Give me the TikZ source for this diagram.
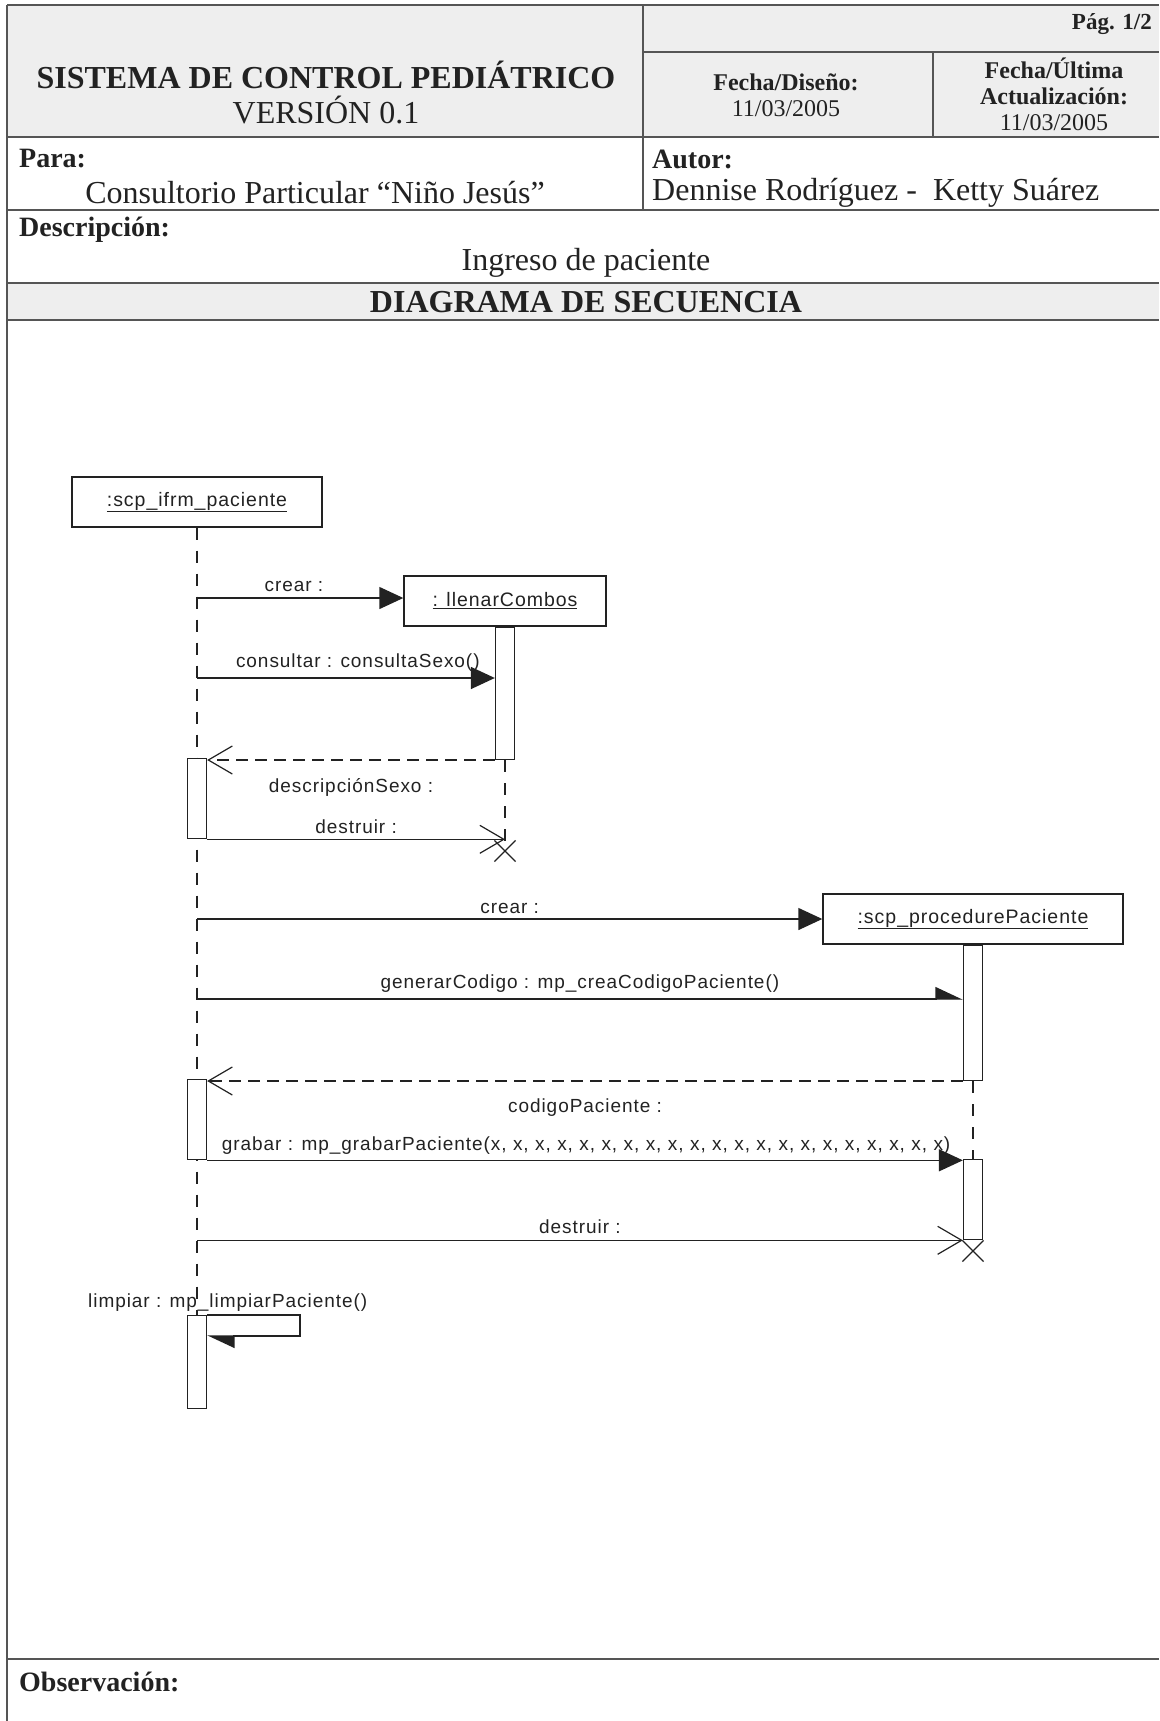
\documentclass[tikz,border=0pt]{standalone}
\usepackage{fontspec}
\setmainfont{Liberation Serif}
\newfontfamily\diagfont[LetterSpace=5]{Liberation Sans}
\usetikzlibrary{arrows.meta,positioning,shapes.misc,calc,backgrounds}
\definecolor{FormGray}{HTML}{EEEEEE}
\definecolor{FrameGray}{HTML}{555555}
\definecolor{InkBlack}{HTML}{222222}
\tikzset{
    % Form cells and texts
    frame line/.style={
        draw=FrameGray,
        line width=1.6pt
    },
    title text/.style={
        font=\fontsize{32}{34}\selectfont\bfseries,
        text=InkBlack
    },
    body text/.style={
        font=\fontsize{32}{34}\selectfont,
        text=InkBlack
    },
    field label/.style={
        font=\fontsize{28}{30}\selectfont\bfseries,
        text=InkBlack,
        anchor=west,
        inner sep=0pt
    },
    date text/.style={
        font=\fontsize{24}{26}\selectfont,
        text=InkBlack,
        align=center
    },
    % Sequence diagram
    object/.style={
        rectangle,
        draw=InkBlack,
        line width=1.4pt,
        fill=white,
        minimum height=50pt,
        font=\diagfont\fontsize{19.5}{21}\selectfont,
        text=InkBlack
    },
    activation/.style={
        rectangle,
        draw=InkBlack,
        line width=1.3pt,
        fill=white,
        minimum width=19pt,
        inner sep=0pt,
        anchor=north
    },
    lifeline/.style={
        draw=InkBlack,
        line width=1.3pt,
        dash pattern=on 12pt off 11pt
    },
    msg/.style={
        draw=InkBlack,
        line width=1.4pt,
        -{Triangle[length=24pt,width=22pt]}
    },
    msg half/.style={
        draw=InkBlack,
        line width=1.4pt,
        -{Triangle[left,length=26pt,width=24pt]}
    },
    msg open/.style={
        draw=InkBlack,
        line width=1.2pt,
        -{Straight Barb[length=24pt,width=28pt]}
    },
    msg return/.style={
        msg open,
        dash pattern=on 12pt off 7pt
    },
    msg label/.style={
        font=\diagfont\fontsize{19}{21}\selectfont,
        text=InkBlack,
        inner sep=0pt
    },
    destroy/.style={
        cross out,
        draw=InkBlack,
        line width=1.2pt,
        minimum size=20pt,
        inner sep=0pt
    }
}

\begin{document}
\begin{tikzpicture}[x=1pt, y=-1pt]
        \useasboundingbox (0,0) rectangle (1159,1721);

        % Shaded header rows
        \fill[FormGray] (7,5) rectangle (1159,137);
        \fill[FormGray] (7,283) rectangle (1159,320);

        % Form grid
        \draw[frame line] (7,5) -- (1159,5);
        \draw[frame line] (7,5) -- (7,1721);
        \draw[frame line] (643,5) -- (643,210);
        \draw[frame line] (643,52) -- (1159,52);
        \draw[frame line] (933,52) -- (933,137);
        \foreach \y in {137,210,283,320,1659}
            \draw[frame line] (7,\y) -- (1159,\y);

        % Header texts
        \node[title text] (sys) at (326,75) {SISTEMA DE CONTROL PEDIÁTRICO};
        \node[body text] (version) at (326,110) {VERSIÓN 0.1};
        \node[font=\fontsize{23}{25}\selectfont\bfseries, text=InkBlack, anchor=east, inner sep=0pt] (page) at (1152,24) {Pág. 1/2};
        \node[date text] (design) at (786,95) {\textbf{Fecha/Diseño:}\\11/03/2005};
        \node[date text] (update) at (1054,94) {\textbf{Fecha/Última}\\\textbf{Actualización:}\\11/03/2005};

        \node[field label] (para) at (19,159) {Para:};
        \node[body text] (client) at (315,193) {Consultorio Particular “Niño Jesús”};
        \node[field label] (autor) at (652,159) {Autor:};
        \node[body text, anchor=west, inner sep=0pt] (authors) at (652,193) {Dennise Rodríguez -\ \ Ketty Suárez};
        \node[field label] (desc) at (19,230) {Descripción:};
        \node[body text] (descText) at (586,263) {Ingreso de paciente};
        \node[title text] (diagTitle) at (586,302) {DIAGRAMA DE SECUENCIA};
        \node[field label] (obs) at (19,1682) {Observación:};

        % Objects
        \node[object, minimum width=250pt] (ifrm) at (197,502) {\underline{:scp\_ifrm\_paciente}};
        \node[object, minimum width=202pt] (combos) at (505,601) {\underline{: llenarCombos}};
        \node[object, minimum width=300pt] (proc) at (973,919) {\underline{:scp\_procedurePaciente}};

        % Activations
        \node[activation, minimum height=132pt] (actCombos) at (combos.south) {};
        \node[activation, minimum height=80pt] (actIfrmA) at (197,758) {};
        \node[activation, minimum height=135pt] (actProcA) at (proc.south) {};
        \node[activation, minimum height=80pt] (actIfrmB) at (197,1079) {};
        \node[activation, minimum height=80pt] (actProcB) at (973,1159) {};
        \node[activation, minimum height=93pt] (actIfrmC) at (197,1315) {};

        % Destruction marks
        \node[destroy] (xCombos) at (505,851) {};
        \node[destroy] (xProc) at (973,1251) {};

        % Lifelines
        \begin{scope}[on background layer]
            \draw[lifeline] (ifrm.south) -- (actIfrmC.north);
            \draw[lifeline] (actCombos.south) -- (xCombos.center);
            \draw[lifeline] (actProcA.south) -- (actProcB.north);
        \end{scope}

        % Messages
        \coordinate (crearA) at (197,598);
        \draw[msg] (crearA) -- (crearA -| combos.west)
            node[msg label, pos=0.47, above=6pt] {crear :};
        \coordinate (consultA) at (197,678);
        \draw[msg] (consultA) -- (consultA -| actCombos.west)
            node[msg label, pos=0.54, above=6pt] {consultar : consultaSexo()};
        \draw[msg return] (actCombos.south west) -- (actCombos.south west -| actIfrmA.north east)
            node[msg label, midway, below=18pt] {descripciónSexo :};
        \draw[msg open] (actIfrmA.south east) -- (actIfrmA.south east -| xCombos.center)
            node[msg label, midway, above=5pt] {destruir :};

        \draw[msg] (proc.west -| ifrm.south) -- (proc.west)
            node[msg label, midway, above=5pt] {crear :};
        \coordinate (genA) at (197,999);
        \draw[msg half] (genA) -- (genA -| actProcA.west)
            node[msg label, midway, above=6pt] {generarCodigo : mp\_creaCodigoPaciente()};
        \draw[msg return] (actProcA.south west) -- (actProcA.south west -| actIfrmB.north east)
            node[msg label, midway, below=17pt] {codigoPaciente :};
        \draw[msg] (actIfrmB.south east) -- (actIfrmB.south east -| actProcB.north west)
            node[msg label, anchor=south west, above right=5pt and 14pt of actIfrmB.south east]
            {\spaceskip=6.4pt\relax grabar : mp\_grabarPaciente(\foreach \i in {1,...,20}{x, }x)};
        \draw[msg open] (actProcB.south west -| ifrm.south) -- (actProcB.south west)
            node[msg label, midway, above=6pt] {destruir :};

        % Self call
        \coordinate (selfEnd) at ($(actIfrmC.north east)+(0,21)$);
        \draw[msg half] (actIfrmC.north east) -- ++(93,0) -- ++(0,21) -- (selfEnd);
        \node[msg label, anchor=west] (limpiar) at (88,1303) {limpiar : mp\_limpiarPaciente()};
    \end{tikzpicture}
\end{document}
